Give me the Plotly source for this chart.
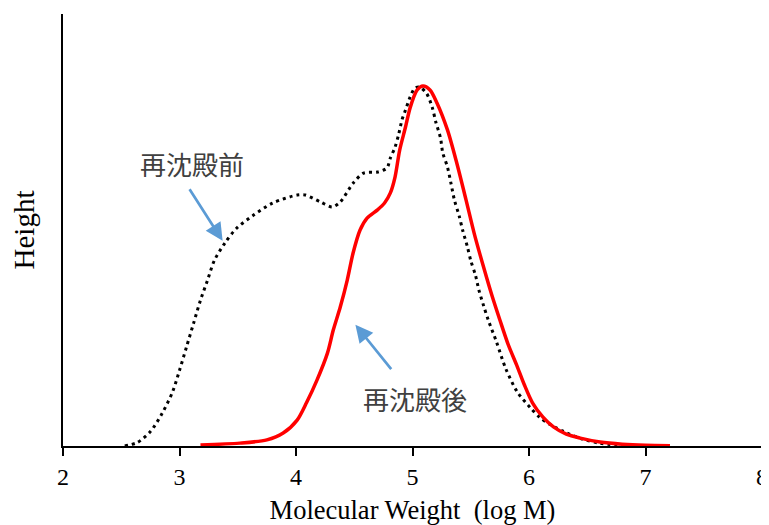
import plotly.graph_objects as go

# 再沈殿前 (before reprecipitation) - dotted black
before_x = [2.53, 2.64, 2.75, 2.85, 2.94, 3.00, 3.06, 3.12, 3.18, 3.24, 3.30, 3.39, 3.49, 3.63, 3.80,
            4.01, 4.08, 4.21, 4.31, 4.38, 4.49, 4.58, 4.70, 4.78, 4.81, 4.85, 4.88, 4.91, 4.94, 4.98,
            5.02, 5.06, 5.12, 5.17, 5.20, 5.24, 5.26, 5.30, 5.33, 5.36, 5.40, 5.43, 5.47, 5.50, 5.54,
            5.57, 5.61, 5.65, 5.72, 5.80, 5.90, 6.01, 6.09, 6.18, 6.30, 6.45, 6.60, 6.80]
before_y = [0.00, 0.01, 0.04, 0.09, 0.15, 0.21, 0.275, 0.34, 0.405, 0.46, 0.516, 0.564, 0.605, 0.64, 0.675,
            0.697, 0.697, 0.678, 0.664, 0.678, 0.73, 0.758, 0.761, 0.772, 0.80, 0.83, 0.864, 0.906, 0.933, 0.97,
            0.994, 0.997, 0.98, 0.94, 0.90, 0.856, 0.814, 0.775, 0.73, 0.683, 0.64, 0.60, 0.555, 0.515, 0.475,
            0.433, 0.39, 0.35, 0.29, 0.215, 0.15, 0.107, 0.08, 0.06, 0.04, 0.02, 0.008, 0.002]

# 再沈殿後 (after reprecipitation) - solid red
after_x = [3.18, 3.52, 3.75, 3.89, 4.01, 4.09, 4.18, 4.27, 4.32, 4.38, 4.44, 4.49, 4.55, 4.61, 4.70,
           4.76, 4.81, 4.85, 4.89, 4.94, 4.98, 5.04, 5.09, 5.15, 5.21, 5.30, 5.38, 5.46, 5.53, 5.61,
           5.68, 5.75, 5.82, 5.90, 5.96, 6.03, 6.12, 6.21, 6.32, 6.44, 6.61, 6.80, 7.00, 7.21]
after_y = [0.003, 0.008, 0.017, 0.036, 0.072, 0.12, 0.183, 0.258, 0.322, 0.386, 0.461, 0.536, 0.60, 0.633, 0.656,
           0.675, 0.703, 0.747, 0.822, 0.886, 0.94, 0.989, 1.0, 0.989, 0.953, 0.878, 0.786, 0.683, 0.59, 0.497,
           0.42, 0.35, 0.283, 0.22, 0.17, 0.12, 0.08, 0.053, 0.033, 0.022, 0.011, 0.005, 0.002, 0.001]

x_ticks = [2, 3, 4, 5, 6, 7, 8]
label_before = "再沈殿前"
label_after = "再沈殿後"

serif = "Liberation Serif, Times New Roman, serif"
cjk = "Noto Sans CJK JP, sans-serif"

fig = go.Figure()
fig.add_trace(go.Scatter(x=before_x, y=before_y, mode="lines",
                         line=dict(color="black", width=3, dash="3px,4px", shape="spline", smoothing=0.8),
                         showlegend=False, hoverinfo="skip"))
fig.add_trace(go.Scatter(x=after_x, y=after_y, mode="lines",
                         line=dict(color="#FF0000", width=3.5, shape="spline", smoothing=0.8),
                         showlegend=False, hoverinfo="skip"))

arrow_color = "#5B9BD5"
fig.add_annotation(x=3.37, y=0.57, ax=-34, ay=-53, text="", showarrow=True,
                   arrowhead=2, arrowsize=1.3, arrowwidth=2.7, arrowcolor=arrow_color)
fig.add_annotation(x=4.51, y=0.337, ax=37, ay=46, text="", showarrow=True,
                   arrowhead=2, arrowsize=1.3, arrowwidth=2.7, arrowcolor=arrow_color)
fig.add_annotation(x=3.107, y=0.786, text=label_before, showarrow=False,
                   font=dict(family=cjk, size=26, color="#404040"))
fig.add_annotation(x=5.02, y=0.133, text=label_after, showarrow=False,
                   font=dict(family=cjk, size=26, color="#404040"))

# page body has an 8px default margin, so the figure is sized/offset to compensate
fig.update_layout(
    width=761, height=517,
    margin=dict(l=55, r=7, t=6, b=79, autoexpand=False),
    paper_bgcolor="white", plot_bgcolor="white",
    font=dict(family=serif, color="black"),
    xaxis=dict(range=[2, 8], tickvals=x_ticks, ticks="outside", ticklen=8, tickwidth=1.5,
               tickcolor="black", showline=True, linecolor="black", linewidth=2, automargin=False,
               showgrid=False, zeroline=False, tickfont=dict(family=serif, size=24),
               title=dict(text="Molecular Weight  (log M)", font=dict(family=serif, size=26.5), standoff=14)),
    yaxis=dict(range=[0, 1.2], showticklabels=False, ticks="", showline=True, linecolor="black",
               linewidth=2, showgrid=False, zeroline=False, automargin=False,
               title=dict(text="Height", font=dict(family=serif, size=29), standoff=22)),
)

fig.write_html("out.html")
